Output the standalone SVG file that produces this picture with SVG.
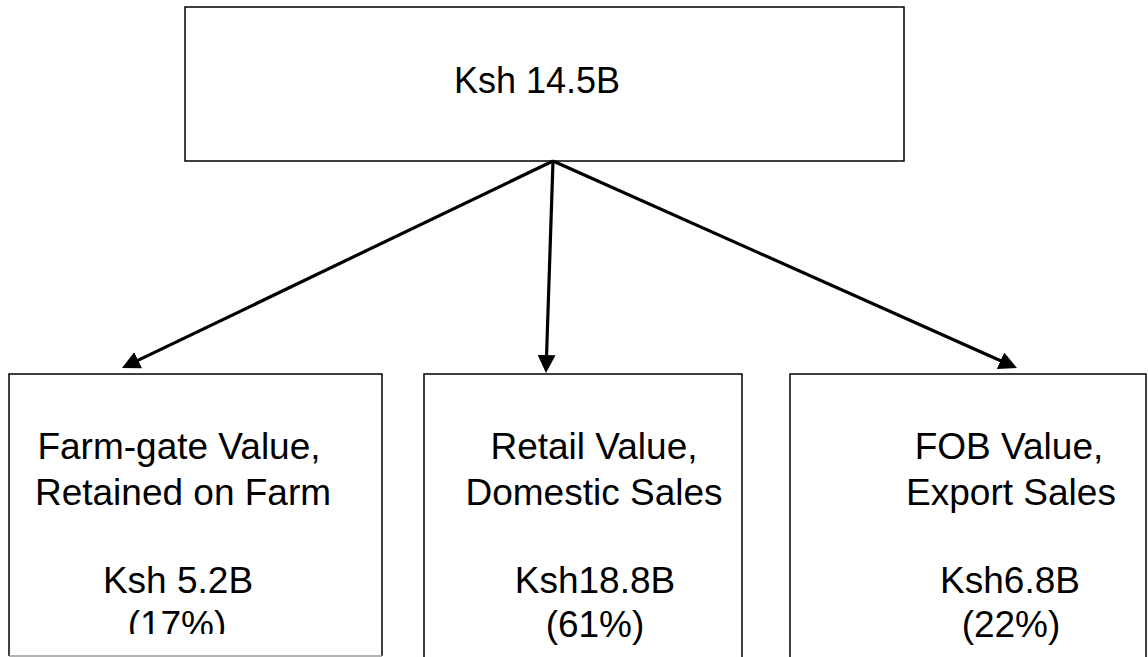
<svg xmlns="http://www.w3.org/2000/svg" width="1148" height="657" viewBox="0 0 1148 657">
  <style>
    .box { fill: #ffffff; stroke: #000000; stroke-width: 1.5; }
    .lbl { font-family: "Liberation Sans", Arial, sans-serif; font-size: 37px; fill: #000000; text-anchor: middle; }
    .conn { stroke: #000000; stroke-width: 3.2; fill: none; marker-end: url(#arrow); }
  </style>
  <defs>
    <marker id="arrow" markerUnits="userSpaceOnUse" markerWidth="18" markerHeight="18" refX="5" refY="9" orient="auto">
      <path d="M0,0 L18,9 L0,18 z" fill="#000000"/>
    </marker>
    <clipPath id="clipLeft">
      <rect x="0" y="370" width="400" height="264"/>
    </clipPath>
  </defs>
  <rect x="0" y="0" width="1148" height="657" fill="#ffffff"/>

  <g id="node-total">
    <rect class="box" x="185" y="7" width="719" height="154"/>
    <text class="lbl" x="537" y="93" style="font-size:36px">Ksh 14.5B</text>
  </g>

  <g id="node-farmgate">
    <rect x="9" y="374" width="373" height="282" fill="#ffffff" stroke="none"/>
    <path d="M9,656 V374 H382 V656" fill="none" stroke="#000000" stroke-width="1.5"/>
    <line x1="9" y1="656" x2="382" y2="656" stroke="#9a9a9a" stroke-width="1.5"/>
    <g clip-path="url(#clipLeft)">
      <text class="lbl" x="179" y="459">Farm-gate Value,</text>
      <text class="lbl" x="183" y="505">Retained on Farm</text>
      <text class="lbl" x="178" y="593">Ksh 5.2B</text>
      <text class="lbl" x="177" y="637">(17%)</text>
    </g>
  </g>

  <g id="node-retail">
    <rect class="box" x="424" y="374" width="318" height="300"/>
    <text class="lbl" x="594" y="459">Retail Value,</text>
    <text class="lbl" x="594" y="505">Domestic Sales</text>
    <text class="lbl" x="595" y="593">Ksh18.8B</text>
    <text class="lbl" x="595" y="637">(61%)</text>
  </g>

  <g id="node-fob">
    <rect class="box" x="790" y="374" width="356" height="300"/>
    <text class="lbl" x="1009" y="459">FOB Value,</text>
    <text class="lbl" x="1011" y="505">Export Sales</text>
    <text class="lbl" x="1010" y="593">Ksh6.8B</text>
    <text class="lbl" x="1011" y="637">(22%)</text>
  </g>

  <g id="connectors">
    <line class="conn" x1="553" y1="161" x2="133.7" y2="362.4"/>
    <line class="conn" x1="553" y1="161" x2="546.4" y2="360"/>
    <line class="conn" x1="553" y1="161" x2="1005.1" y2="362.7"/>
  </g>
</svg>
